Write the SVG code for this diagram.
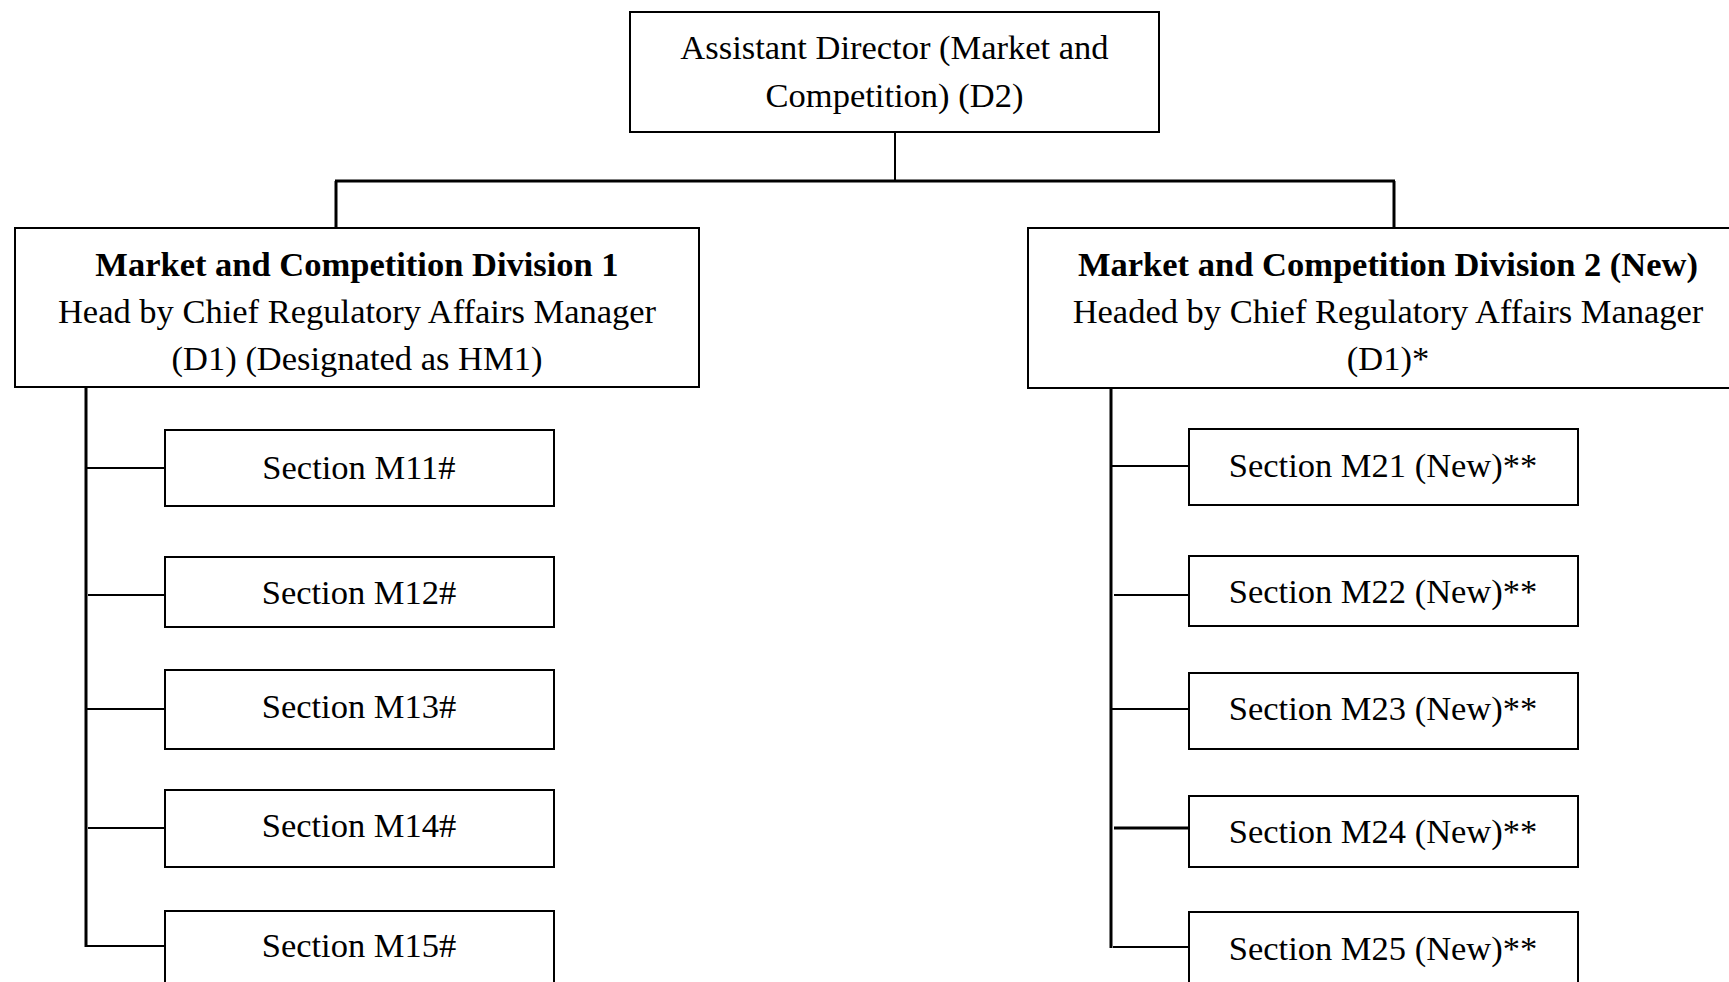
<svg xmlns="http://www.w3.org/2000/svg" width="1729" height="982" viewBox="0 0 1729 982">
<style>
rect{fill:#fff;stroke:#000;stroke-width:2}
text{font-family:"Liberation Serif","Times New Roman",serif;font-size:34.5px;fill:#000;text-anchor:middle}
.b{font-weight:bold}
.c line{stroke:#000;stroke-width:2}
.c .t{stroke-width:3}
</style>
<rect x="0" y="0" width="1729" height="982" style="stroke:none"/>
<g class="c" id="connectors">
<line x1="895" y1="132" x2="895" y2="181"/>
<line class="t" x1="335" y1="181" x2="1395" y2="181"/>
<line class="t" x1="336" y1="181" x2="336" y2="228"/>
<line class="t" x1="1394" y1="181" x2="1394" y2="228"/>
<line class="t" x1="86" y1="387" x2="86" y2="947"/>
<line x1="86" y1="468" x2="164" y2="468"/>
<line x1="88" y1="595" x2="168" y2="595"/>
<line x1="86" y1="709" x2="164" y2="709"/>
<line x1="88" y1="828" x2="168" y2="828"/>
<line x1="85" y1="946" x2="164" y2="946"/>
<line class="t" x1="1111" y1="388" x2="1111" y2="948"/>
<line x1="1111" y1="466" x2="1189" y2="466"/>
<line x1="1114" y1="595" x2="1193" y2="595"/>
<line x1="1111" y1="709" x2="1189" y2="709"/>
<line class="t" x1="1114" y1="828" x2="1193" y2="828"/>
<line x1="1113" y1="947" x2="1189" y2="947"/>
</g>
<g id="n-ad">
<rect x="630" y="12" width="529" height="120"/>
<text x="894.5" y="59">Assistant Director (Market and</text>
<text x="894.5" y="107">Competition) (D2)</text>
</g>
<g id="n-div1">
<rect x="15" y="228" width="684" height="159"/>
<text x="357" y="276" class="b">Market and Competition Division 1</text>
<text x="357" y="323">Head by Chief Regulatory Affairs Manager</text>
<text x="357" y="370">(D1) (Designated as HM1)</text>
</g>
<g id="n-div2">
<rect x="1028" y="228" width="720" height="160"/>
<text x="1388" y="276" class="b">Market and Competition Division 2 (New)</text>
<text x="1388" y="323">Headed by Chief Regulatory Affairs Manager</text>
<text x="1388" y="370">(D1)*</text>
</g>
<g id="n-m11"><rect x="165" y="430" width="389" height="76"/><text x="359" y="479">Section M11#</text></g>
<g id="n-m12"><rect x="165" y="557" width="389" height="70"/><text x="359" y="604">Section M12#</text></g>
<g id="n-m13"><rect x="165" y="670" width="389" height="79"/><text x="359" y="718">Section M13#</text></g>
<g id="n-m14"><rect x="165" y="790" width="389" height="77"/><text x="359" y="837">Section M14#</text></g>
<g id="n-m15"><rect x="165" y="911" width="389" height="90"/><text x="359" y="957">Section M15#</text></g>
<g id="n-m21"><rect x="1189" y="429" width="389" height="76"/><text x="1383" y="477">Section M21 (New)**</text></g>
<g id="n-m22"><rect x="1189" y="556" width="389" height="70"/><text x="1383" y="603">Section M22 (New)**</text></g>
<g id="n-m23"><rect x="1189" y="673" width="389" height="76"/><text x="1383" y="720">Section M23 (New)**</text></g>
<g id="n-m24"><rect x="1189" y="796" width="389" height="71"/><text x="1383" y="843">Section M24 (New)**</text></g>
<g id="n-m25"><rect x="1189" y="912" width="389" height="90"/><text x="1383" y="960">Section M25 (New)**</text></g>
</svg>
